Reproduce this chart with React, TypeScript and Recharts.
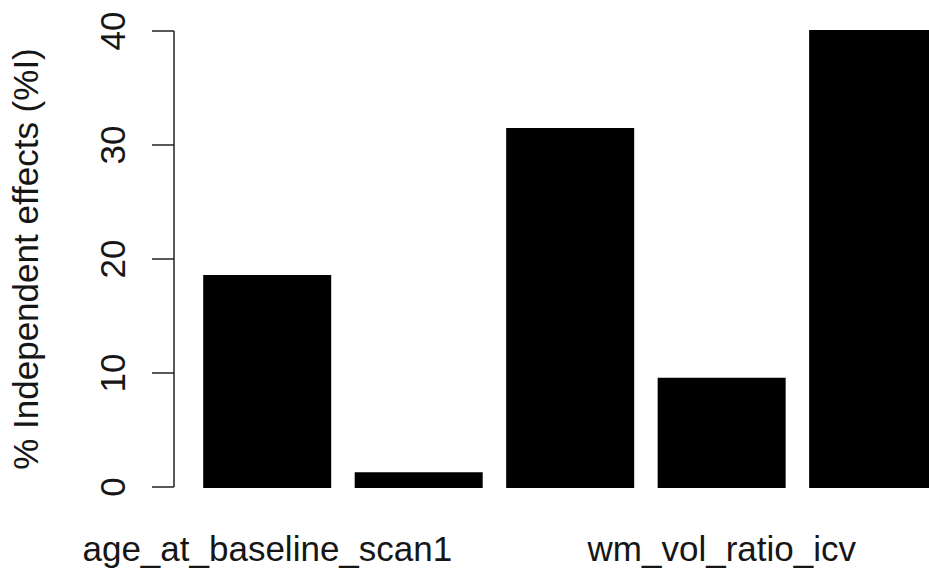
import { BarChart, Bar, XAxis, YAxis, Label } from 'recharts'

// only the first and fourth names fit on the axis, the others are hidden like in the original
const categories = ['age_at_baseline_scan1', 'sex', 'apoe4_carrier', 'wm_vol_ratio_icv', 'wmh_vol_ratio_icv']
const effects = [18.5, 1.2, 31.4, 9.5, 40.0]
const yTicks = [0, 10, 20, 30, 40]

const data = categories.map((name, i) => ({ name, effect: effects[i] }))

const font = '"Liberation Sans", Arial, Helvetica, sans-serif'
const ink = '#161616'

function YTick({ x, y, payload }: any) {
  return (
    <text x={x} y={y} transform={`rotate(-90 ${x} ${y})`} textAnchor="middle"
      fontFamily={font} fontSize={35} fill={ink}>
      {payload.value}
    </text>
  )
}

function XTick({ x, y, payload }: any) {
  return (
    <text x={x} y={y} textAnchor="middle" fontFamily={font} fontSize={35} fill={ink}>
      {payload.value}
    </text>
  )
}

function YTitle({ viewBox }: any) {
  const cy = viewBox.y + viewBox.height / 2
  return (
    <text x={38} y={cy} transform={`rotate(-90 38 ${cy})`} textAnchor="middle"
      fontFamily={font} fontSize={35} fill={ink}>
      % Independent effects (%I)
    </text>
  )
}

export default function App() {
  return (
    <div style={{ position: 'fixed', left: 0, top: 0, width: 929, height: 572, overflow: 'hidden', background: '#fff' }}>
      <BarChart width={949} height={572} data={data} barCategoryGap="8.33%"
        margin={{ top: 31, right: 0, left: 0, bottom: 0 }}>
        <XAxis dataKey="name" height={85} interval={2} axisLine={false} tickLine={false}
          tickSize={0} tickMargin={74} padding={{ left: 17.6, right: 0 }} tick={<XTick />} />
        <YAxis width={174} domain={[0, 40]} ticks={yTicks} tickSize={22} tickMargin={27}
          axisLine={{ stroke: '#222', strokeWidth: 1.5 }} tickLine={{ stroke: '#222', strokeWidth: 1.5 }}
          tick={<YTick />}>
          <Label content={<YTitle />} />
        </YAxis>
        <Bar dataKey="effect" fill="#000" stroke="#000" strokeWidth={2} isAnimationActive={false} />
      </BarChart>
    </div>
  )
}
